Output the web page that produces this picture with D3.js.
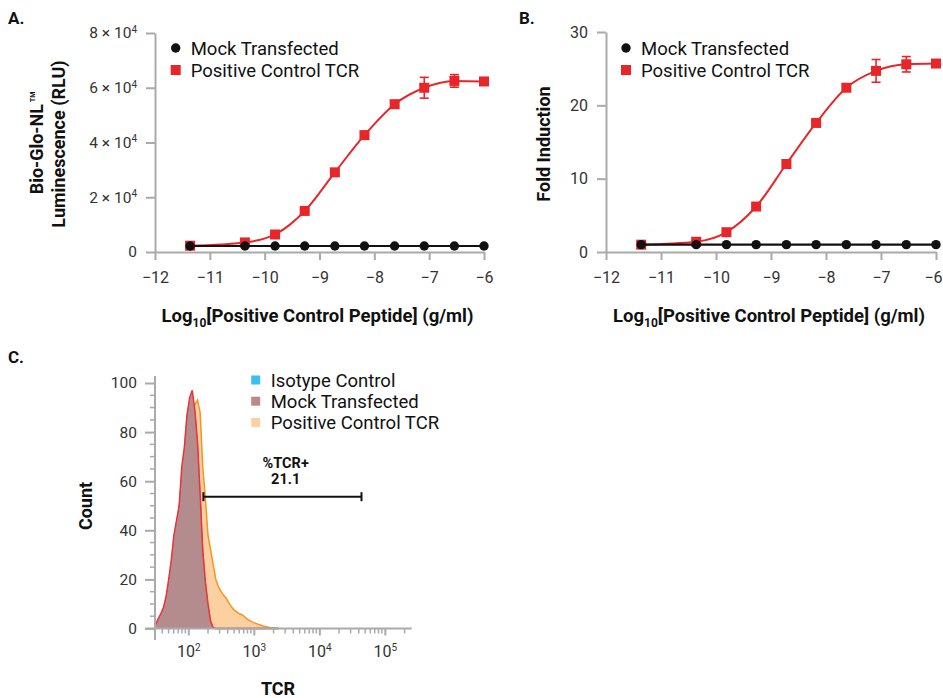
<!DOCTYPE html>
<html>
<head>
<meta charset="utf-8">
<script src="https://cdn.jsdelivr.net/npm/d3@7.9.0/dist/d3.min.js"></script>
<style>
  body { margin: 0; background: #fff; }
  svg { font-family: Roboto, sans-serif; }
</style>
</head>
<body>
<svg id="chart" width="943" height="698"></svg>
<script>
// dose response data (x = log10 peptide g/ml)
const concLog = [-11.36, -10.36, -9.81, -9.27, -8.72, -8.18, -7.63, -7.09, -6.54, -6.0];
const lumMock = [2200, 2200, 2200, 2200, 2200, 2200, 2200, 2200, 2200, 2200];
const lumTcr = [2300, 3500, 6400, 15000, 29100, 42700, 54000, 60000, 62500, 62300];
const lumTcrErr = [300, 400, 300, 400, 500, 600, 700, 3800, 2300, 800];
const foldMock = [1.0, 1.0, 1.0, 1.0, 1.0, 1.0, 1.0, 1.0, 1.0, 1.0];
const foldTcr = [1.0, 1.4, 2.7, 6.2, 12.0, 17.6, 22.4, 24.7, 25.6, 25.7];
const foldTcrErr = [0.1, 0.1, 0.1, 0.2, 0.2, 0.3, 0.3, 1.55, 1.05, 0.4];
const doseTicks = [-12, -11, -10, -9, -8, -7, -6];
const lumTicks = [0, 20000, 40000, 60000, 80000];
const foldTicks = [0, 10, 20, 30];
const doseLegend = ['Mock Transfected', 'Positive Control TCR'];

// flow histogram (x = log10 TCR intensity)
const tcrLog = [1.50, 1.54, 1.58, 1.62, 1.66, 1.70, 1.74, 1.78, 1.82, 1.86, 1.90, 1.94, 1.98,
  2.02, 2.06, 2.10, 2.14, 2.18, 2.22, 2.26, 2.30, 2.34, 2.38, 2.42, 2.46, 2.50, 2.54, 2.58,
  2.62, 2.66, 2.70, 2.74, 2.78, 2.82, 2.86, 2.90, 2.94, 2.98, 3.02, 3.06, 3.10, 3.14, 3.18,
  3.22, 3.26, 3.30, 3.34, 3.38];
const countIsotype = [1.2, 3.5, 5.5, 8, 12, 18, 26, 36, 43, 49, 62, 72, 86,
  92, 93, 87, 74, 53, 31, 18, 9, 2.5, 0.2, 0, 0, 0, 0, 0,
  0, 0, 0, 0, 0, 0, 0, 0, 0, 0, 0, 0, 0, 0, 0,
  0, 0, 0, 0, 0];
const countMock = [1.5, 4, 6, 8.5, 13, 20, 28, 38, 44, 50, 66, 74, 87,
  94, 97, 89, 76, 55, 32, 19, 10, 3, 0.3, 0, 0, 0, 0, 0,
  0, 0, 0, 0, 0, 0, 0, 0, 0, 0, 0, 0, 0, 0, 0,
  0, 0, 0, 0, 0];
const countTcr = [1, 2.5, 4.5, 7, 11, 17, 25, 33, 42, 49, 58, 68, 80,
  88, 92, 91, 93, 88, 66, 53, 38, 32, 26, 20, 17, 15, 13.5, 12.3,
  10.3, 8.8, 7.5, 6.8, 6.0, 5.6, 4.8, 3.8, 3.2, 2.6, 2.2, 1.8, 1.4, 1.0, 0.8,
  0.5, 0.3, 0.2, 0.1, 0];
const countTicks = [0, 20, 40, 60, 80, 100];
const tcrTicks = [100, 1000, 10000, 100000];
const flowLegend = ['Isotype Control', 'Mock Transfected', 'Positive Control TCR'];
const gateRange = [170, 44000];
const gateLabel = ['%TCR+', '21.1'];

const red = '#e8262a';
const axisGray = '#aaaaaa';
const textGray = '#333';
const flowFill = ['#3cbfef', '#b98a89', '#fdd0a1'];
const flowStroke = ['#7d8fb3', '#e8343a', '#f7941e'];

const svg = d3.select('#chart');

function styleAxis(g, size) {
  g.attr('font-family', 'Roboto, sans-serif').attr('font-size', size);
  g.select('.domain').attr('stroke', axisGray).attr('stroke-width', 2);
  g.selectAll('.tick line').attr('stroke', axisGray).attr('stroke-width', 2);
  g.selectAll('.tick text').attr('fill', textGray);
}

function boldText(x, y, size, t) {
  return svg.append('text').attr('x', x).attr('y', y)
    .attr('text-anchor', 'middle').attr('font-size', size).attr('font-weight', 'bold').attr('fill', '#111')
    .text(t);
}

function drawDose(opts) {
  const { x, y, yTicks, yFmt, mock, tcr, tcrErr } = opts;

  const xAxis = svg.append('g')
    .attr('transform', `translate(0,${y(0)})`)
    .call(d3.axisBottom(x).tickValues(doseTicks).tickFormat(d3.format('d'))
      .tickSize(8).tickSizeOuter(0).tickPadding(12));
  styleAxis(xAxis, 16);
  // last label sits at the page edge, nudge it in a little
  xAxis.selectAll('.tick text').filter((d) => d === -6).attr('dx', opts.lastDx || 0);

  const yAxis = svg.append('g')
    .attr('transform', `translate(${x(-12)},0)`)
    .call(d3.axisLeft(y).tickValues(yTicks).tickSize(9).tickSizeOuter(0).tickPadding(9));
  styleAxis(yAxis, opts.yFont);
  if (yFmt) yAxis.selectAll('.tick text').each(yFmt);

  // fitted curve for TCR
  const curve = d3.line()
    .x((d, i) => x(concLog[i]))
    .y((d) => y(d))
    .curve(d3.curveMonotoneX);
  svg.append('path').datum(tcr)
    .attr('d', curve).attr('fill', 'none').attr('stroke', red).attr('stroke-width', 2);

  // error bars
  const eb = svg.append('g').attr('stroke', red).attr('stroke-width', 1.6);
  tcr.forEach((v, i) => {
    const cx = x(concLog[i]);
    const y0 = y(v - tcrErr[i]), y1 = y(v + tcrErr[i]);
    eb.append('line').attr('x1', cx).attr('x2', cx).attr('y1', y0).attr('y2', y1);
    eb.append('line').attr('x1', cx - 4.5).attr('x2', cx + 4.5).attr('y1', y0).attr('y2', y0);
    eb.append('line').attr('x1', cx - 4.5).attr('x2', cx + 4.5).attr('y1', y1).attr('y2', y1);
  });

  svg.append('g').selectAll('rect').data(tcr).join('rect')
    .attr('x', (d, i) => x(concLog[i]) - 5)
    .attr('y', (d) => y(d) - 5)
    .attr('width', 10).attr('height', 10)
    .attr('fill', red);

  // mock line + points
  const straight = d3.line().x((d, i) => x(concLog[i])).y((d) => y(d));
  svg.append('path').datum(mock)
    .attr('d', straight).attr('fill', 'none').attr('stroke', '#111').attr('stroke-width', 2.2);
  svg.append('g').selectAll('circle').data(mock).join('circle')
    .attr('cx', (d, i) => x(concLog[i]))
    .attr('cy', (d) => y(d))
    .attr('r', 4.7).attr('fill', '#111');

  // legend
  const lx = opts.legendX, ly = 48;
  svg.append('circle').attr('cx', lx).attr('cy', ly).attr('r', 4.7).attr('fill', '#111');
  svg.append('rect').attr('x', lx - 5).attr('y', ly + 22 - 5).attr('width', 10).attr('height', 10).attr('fill', red);
  doseLegend.forEach((t, i) => {
    svg.append('text').attr('x', lx + 15).attr('y', ly + 6.5 + i * 22)
      .attr('font-size', 18.5).attr('fill', '#111').text(t);
  });

  // x title
  const xt = boldText((x(-12) + x(-6)) / 2 - 2, 322, 18.5, null);
  xt.append('tspan').text('Log');
  xt.append('tspan').attr('font-size', 12).attr('dy', 4.5).text('10');
  xt.append('tspan').attr('dy', -4.5).text('[Positive Control Peptide] (g/ml)');
}

// panel A
const xA = d3.scaleLinear().domain([-12, -6]).range([155, 484]);
const yA = d3.scaleLinear().domain([0, 80000]).range([252, 33]);
drawDose({
  x: xA, y: yA, yTicks: lumTicks, yFont: 15.5, legendX: 175.7,
  mock: lumMock, tcr: lumTcr, tcrErr: lumTcrErr,
  yFmt: function (d) {
    if (d === 0) return;
    const t = d3.select(this).text('');
    t.append('tspan').text(`${d / 10000} × 10`);
    t.append('tspan').attr('font-size', 10).attr('dy', '-0.55em').text('4');
  },
});

// panel B
const xB = d3.scaleLinear().domain([-12, -6]).range([606, 936]);
const yB = d3.scaleLinear().domain([0, 30]).range([252, 32]);
drawDose({
  x: xB, y: yB, yTicks: foldTicks, yFont: 16, legendX: 626, lastDx: -3,
  mock: foldMock, tcr: foldTcr, tcrErr: foldTcrErr,
});

// y titles A and B
const ytA = boldText(0, 0, 18, null).attr('transform', 'translate(43,143) rotate(-90)');
ytA.append('tspan').text('Bio-Glo-NL');
ytA.append('tspan').attr('font-size', 7).attr('dx', 2).attr('dy', -8).text('TM');
boldText(0, 0, 18, 'Luminescence (RLU)').attr('transform', 'translate(65,144) rotate(-90)');
boldText(0, 0, 18, 'Fold Induction').attr('transform', 'translate(550,144) rotate(-90)');

// panel letters
[['A.', 8, 24], ['B.', 519, 24], ['C.', 8, 363]].forEach(([t, px, py]) => {
  boldText(px, py, 17, t).attr('text-anchor', 'start');
});

// panel C: flow histogram
const xC = d3.scaleLog().domain([31, 257000]).range([155, 411.7]);
const yC = d3.scaleLinear().domain([0, 100]).range([628.5, 383]);

const minorX = [];
for (let p = 1; p <= 5; p++) {
  for (let m = 2; m <= 9; m++) {
    const v = m * Math.pow(10, p);
    if (v > 31 && v < 257000) minorX.push(v);
  }
}
const minorY = d3.range(0, 101, 5).filter((v) => v % 20 !== 0);

const area = d3.area()
  .x((d, i) => xC(Math.pow(10, tcrLog[i])))
  .y0(yC(0))
  .y1((d) => yC(d));
const outline = d3.line()
  .x((d, i) => xC(Math.pow(10, tcrLog[i])))
  .y((d) => yC(d));

[countTcr, countIsotype, countMock].forEach((counts, k) => {
  const idx = [2, 0, 1][k];
  svg.append('path').datum(counts).attr('d', area)
    .attr('fill', flowFill[idx]).attr('fill-opacity', idx === 1 ? 0.97 : 1);
  svg.append('path').datum(counts).attr('d', outline)
    .attr('fill', 'none').attr('stroke', flowStroke[idx]).attr('stroke-width', 1.5);
});

// axes C
const xAxisC = svg.append('g')
  .attr('transform', `translate(0,${yC(0)})`)
  .call(d3.axisBottom(xC).tickValues(tcrTicks).tickSize(7).tickSizeOuter(0).tickPadding(10).tickFormat(''));
styleAxis(xAxisC, 16);
xAxisC.select('.domain').attr('d', `M145,0H${xC.range()[1]}`);
xAxisC.selectAll('.tick text').each(function (d) {
  const t = d3.select(this).text('');
  t.append('tspan').text('10');
  t.append('tspan').attr('font-size', 10).attr('dy', '-0.6em').text(Math.round(Math.log10(d)));
});
xAxisC.selectAll('.minor').data(minorX).join('line')
  .attr('x1', (d) => xC(d)).attr('x2', (d) => xC(d))
  .attr('y1', 0).attr('y2', 5)
  .attr('stroke', axisGray).attr('stroke-width', 1.5);

const yAxisC = svg.append('g')
  .attr('transform', `translate(${xC.range()[0]},0)`)
  .call(d3.axisLeft(yC).tickValues(countTicks).tickSize(10).tickSizeOuter(0).tickPadding(8));
styleAxis(yAxisC, 15.5);
yAxisC.select('.domain').attr('d', 'M0,376V640');
yAxisC.selectAll('.minor').data(minorY).join('line')
  .attr('x1', -5).attr('x2', 0)
  .attr('y1', (d) => yC(d)).attr('y2', (d) => yC(d))
  .attr('stroke', axisGray).attr('stroke-width', 1.5);

// gate
const gy = 496.7;
const gate = svg.append('g').attr('stroke', '#111').attr('stroke-width', 2);
gate.append('line').attr('x1', xC(gateRange[0])).attr('x2', xC(gateRange[1])).attr('y1', gy).attr('y2', gy);
gateRange.forEach((v) => {
  gate.append('line').attr('x1', xC(v)).attr('x2', xC(v)).attr('y1', gy - 4.5).attr('y2', gy + 4.5);
});
gateLabel.forEach((t, i) => boldText(285.7, 468 + i * 16, 14.5, t));

// legend C
flowLegend.forEach((t, i) => {
  const cy = 380 + i * 21.2;
  svg.append('rect').attr('x', 251.2).attr('y', cy - 4.5).attr('width', 9).attr('height', 9).attr('fill', flowFill[i]);
  svg.append('text').attr('x', 270.7).attr('y', cy + 6.5)
    .attr('font-size', 18.5).attr('fill', '#111').text(t);
});

// titles C
boldText(0, 0, 18, 'Count').attr('transform', 'translate(91.5,506) rotate(-90)');
boldText(278, 695, 18, 'TCR');
</script>
</body>
</html>
